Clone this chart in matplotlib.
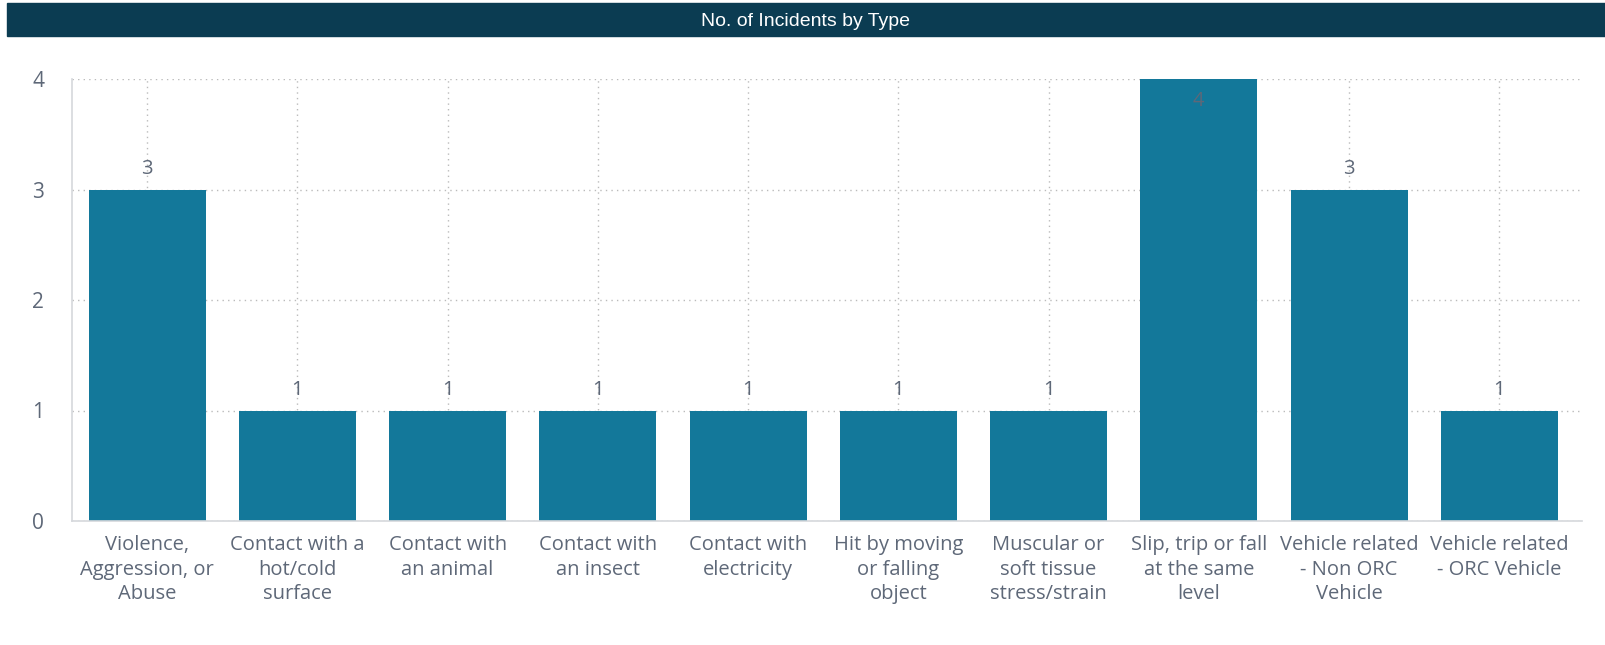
import matplotlib.pyplot as plt
from matplotlib.patches import Rectangle

# data
categories = [
    "Violence,\nAggression, or\nAbuse",
    "Contact with a\nhot/cold\nsurface",
    "Contact with\nan animal",
    "Contact with\nan insect",
    "Contact with\nelectricity",
    "Hit by moving\nor falling\nobject",
    "Muscular or\nsoft tissue\nstress/strain",
    "Slip, trip or fall\nat the same\nlevel",
    "Vehicle related\n- Non ORC\nVehicle",
    "Vehicle related\n- ORC Vehicle",
]
counts = [3, 1, 1, 1, 1, 1, 1, 4, 3, 1]
yticks = [0, 1, 2, 3, 4]
title = "No. of Incidents by Type"

bar_color = "#13789A"
text_color = "#5E6878"
header_color = "#0B3C52"

plt.rcParams["font.family"] = ["Open Sans", "DejaVu Sans"]

fig = plt.figure(figsize=(16.06, 6.45), dpi=100)

# header band
fig.patches.append(Rectangle((7 / 1606, 1 - 36 / 645), 1 - 7 / 1606, 33 / 645,
                             transform=fig.transFigure, color=header_color, zorder=0))
fig.text(0.5 + 3 / 1606, 1 - 21 / 645, title, color="white", ha="center", va="center",
         fontsize=14, family=["Liberation Sans Narrow", "Liberation Sans", "DejaVu Sans"])

ax = fig.add_axes([72 / 1606, 124 / 645, 1510 / 1606, 442 / 645])
x = list(range(len(categories)))
ax.bar(x, counts, width=0.78, color=bar_color, zorder=2)

ymax = yticks[-1]
for xi, v in zip(x, counts):
    if v >= ymax:
        ax.text(xi, v - 0.2, str(v), ha="center", va="center", color=text_color,
                fontsize=14.5, zorder=3)
    else:
        ax.text(xi, v + 0.19, str(v), ha="center", va="center", color=text_color,
                fontsize=14.5, zorder=3)

ax.set_xlim(-0.5, 9.55)
ax.set_ylim(0, ymax)
ax.set_yticks(yticks)
ax.set_xticks(x)
ax.set_xticklabels(categories, fontsize=14.5, color=text_color, linespacing=1.32)
ax.tick_params(axis="y", labelsize=15, labelcolor=text_color, length=0, pad=20)
ax.tick_params(axis="x", length=0, pad=10)

ax.grid(True, linestyle=(0, (1, 3)), color="#BBBBBB", linewidth=1, zorder=0)
for s in ["top", "right"]:
    ax.spines[s].set_visible(False)
for s in ["left", "bottom"]:
    ax.spines[s].set_color("#D5D8DC")
    ax.spines[s].set_linewidth(1.2)

fig.savefig("out.png", dpi=100)
